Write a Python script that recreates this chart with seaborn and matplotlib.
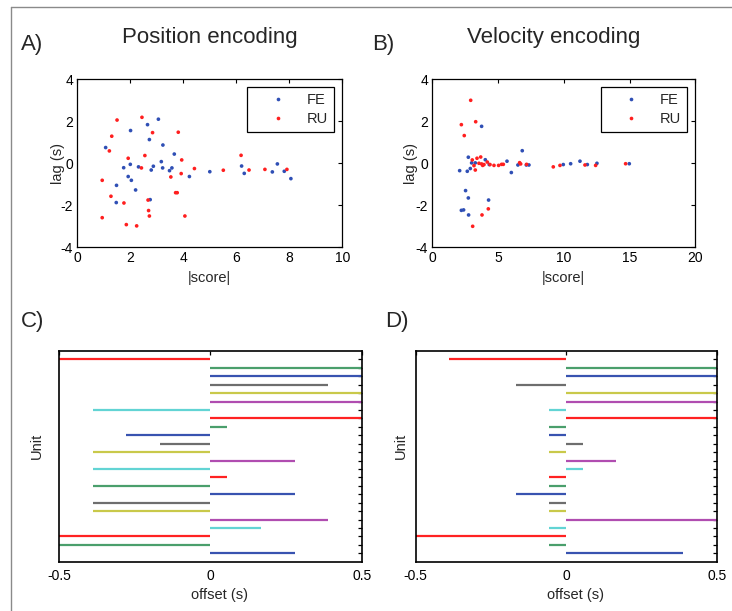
import numpy as np
import pandas as pd
import matplotlib
matplotlib.use("Agg")
import matplotlib.pyplot as plt
import seaborn as sns
from matplotlib.lines import Line2D

# ---------------- data ----------------
# Panel A: position encoding
pos_fe_score = [1.07, 2.01, 2.65, 3.06, 2.72, 3.23, 3.66, 3.17, 2.00, 1.75, 2.31, 2.87, 2.79, 3.22,
                3.48, 3.57, 1.92, 2.04, 1.48, 2.20, 2.75, 1.47, 4.23, 5.00, 6.20, 6.30, 7.36, 7.55,
                7.81, 8.06]
pos_fe_lag = [0.75, 1.56, 1.84, 2.10, 1.13, 0.87, 0.44, 0.08, -0.05, -0.21, -0.17, -0.14, -0.32, -0.22,
              -0.35, -0.22, -0.63, -0.81, -1.05, -1.27, -1.73, -1.87, -0.63, -0.40, -0.13, -0.48, -0.41,
              -0.03, -0.38, -0.73]
pos_ru_score = [1.50, 2.44, 1.30, 2.84, 3.81, 1.21, 1.92, 2.55, 3.94, 2.42, 3.53, 3.92, 4.42, 0.94,
                1.27, 1.76, 2.67, 3.71, 3.77, 2.69, 2.72, 0.94, 1.85, 2.24, 4.06, 5.51, 6.18, 6.48,
                7.08, 7.91]
pos_ru_lag = [2.06, 2.19, 1.29, 1.46, 1.48, 0.59, 0.24, 0.37, 0.16, -0.22, -0.65, -0.49, -0.25, -0.81,
              -1.57, -1.89, -1.75, -1.40, -1.40, -2.25, -2.51, -2.59, -2.92, -2.98, -2.51, -0.33, 0.38,
              -0.32, -0.29, -0.29]

# Panel B: velocity encoding
vel_fe_score = [2.08, 2.74, 2.66, 2.89, 2.99, 3.27, 2.53, 2.74, 2.21, 2.38, 2.76, 3.75, 4.03, 4.33,
                4.28, 5.68, 6.01, 6.51, 6.84, 7.15, 7.35, 9.96, 10.52, 11.23, 11.79, 12.52, 14.98]
vel_fe_lag = [-0.35, 0.29, -0.38, -0.25, 0.02, 0.02, -1.30, -1.65, -2.24, -2.22, -2.46, 1.76, 0.17,
              -0.06, -1.75, 0.10, -0.44, -0.08, 0.60, -0.08, -0.08, -0.06, -0.02, 0.10, -0.06, 0.00, -0.02]
vel_ru_score = [2.92, 2.21, 2.43, 3.30, 3.04, 3.17, 3.27, 3.40, 3.55, 3.68, 3.75, 3.83, 3.93, 4.18,
                4.39, 4.69, 5.04, 5.27, 5.40, 6.64, 6.72, 7.17, 3.78, 4.26, 3.07, 9.20, 9.71, 11.61,
                12.42, 14.70]
vel_ru_lag = [3.00, 1.84, 1.32, 1.98, 0.16, -0.11, -0.32, 0.24, 0.00, 0.30, -0.03, -0.10, -0.06, 0.06,
              -0.06, -0.10, -0.10, -0.05, -0.05, 0.03, -0.03, -0.05, -2.46, -2.17, -3.00, -0.17, -0.10,
              -0.08, -0.10, -0.02]

# Panels C / D: offsets per unit (units 1..24, top to bottom)
units = list(range(1, 25))
offset_pos = [-0.5, 0.5, 0.5, 0.389, 0.5, 0.5, -0.389, 0.5, 0.056, -0.278, -0.167, -0.389,
              0.278, -0.389, 0.056, -0.389, 0.278, -0.389, -0.389, 0.389, 0.167, -0.5, -0.5, 0.278]
offset_vel = [-0.389, 0.5, 0.5, -0.167, 0.5, 0.5, -0.056, 0.5, -0.056, -0.056, 0.056, -0.056,
              0.167, 0.056, -0.056, -0.056, -0.167, -0.056, -0.056, 0.5, -0.056, -0.5, -0.056, 0.389]
unit_colors = ["#ff2222", "#4a9f6c", "#3853b0", "#6e6e6e", "#c9c94a", "#b04db0", "#62d4d4"]

score_ticks_a = [0, 2, 4, 6, 8, 10]
score_ticks_b = [0, 5, 10, 15, 20]
lag_ticks = [-4, -2, 0, 2, 4]
offset_ticks = [-0.5, 0, 0.5]
offset_ticklabels = ["-0.5", "0", "0.5"]

# ---------------- style ----------------
sns.set_style("white")
plt.rcParams["font.family"] = ["Liberation Sans", "DejaVu Sans"]
plt.rcParams["axes.unicode_minus"] = False

W, H = 732, 611
fig = plt.figure(figsize=(W / 100, H / 100), dpi=100)


def ax_px(l, t, r, b):
    return fig.add_axes([l / W, 1 - b / H, (r - l) / W, (b - t) / H])


BLUE = "#2f4fb5"
RED = "#ff1f1f"


def scatter_panel(ax, fe_s, fe_l, ru_s, ru_l, xmax, xticks):
    df = pd.DataFrame({
        "score": list(fe_s) + list(ru_s),
        "lag": list(fe_l) + list(ru_l),
        "group": ["FE"] * len(fe_s) + ["RU"] * len(ru_s),
    })
    sns.scatterplot(data=df, x="score", y="lag", hue="group", hue_order=["FE", "RU"],
                    palette={"FE": BLUE, "RU": RED}, s=7, linewidth=0, ax=ax)
    ax.set_xlim(0, xmax)
    ax.set_ylim(-4, 4)
    ax.set_xticks(xticks)
    ax.set_yticks(lag_ticks)
    ax.tick_params(direction="in", length=3, width=0.8, top=True, right=True,
                   labelsize=10, pad=3, colors="black")
    for s in ax.spines.values():
        s.set_visible(True)
        s.set_color("black")
        s.set_linewidth(0.9)
    ax.set_xlabel("|score|", fontsize=10.5)
    ax.set_ylabel("lag (s)", fontsize=10.5)
    ax.xaxis.set_label_coords(0.5, -0.14)
    ax.yaxis.set_label_coords(-0.045, 0.5)
    handles, labels = ax.get_legend_handles_labels()
    leg = ax.legend(handles, labels, loc="upper right", bbox_to_anchor=(0.97, 0.955),
                    borderaxespad=0, fontsize=10.5, frameon=True, fancybox=False,
                    edgecolor="black", framealpha=1, handlelength=3.3, handletextpad=0.3,
                    borderpad=0.45, labelspacing=0.3, markerscale=1.0)
    leg.get_frame().set_linewidth(0.9)


axA = ax_px(77.3, 79.3, 342.3, 247.3)
scatter_panel(axA, pos_fe_score, pos_fe_lag, pos_ru_score, pos_ru_lag, 10, score_ticks_a)

axB = ax_px(432.3, 79.3, 695.3, 247.3)
scatter_panel(axB, vel_fe_score, vel_fe_lag, vel_ru_score, vel_ru_lag, 20, score_ticks_b)
axB.yaxis.set_label_coords(-0.055, 0.5)


def offset_panel(ax, offsets):
    cols = [unit_colors[i % len(unit_colors)] for i in range(len(units))]
    xmin = [min(0, v) for v in offsets]
    xmax = [max(0, v) for v in offsets]
    ax.hlines(units, xmin, xmax, colors=cols, linewidth=1.6)
    ax.set_xlim(-0.5, 0.5)
    ax.set_ylim(25, 0)
    ax.set_xticks(offset_ticks)
    ax.set_xticklabels(offset_ticklabels)
    ax.set_yticks(units)
    ax.set_yticklabels([])
    ax.tick_params(direction="in", length=3, width=0.9, top=True, right=True,
                   labelsize=10, pad=5, colors="black")
    for s in ax.spines.values():
        s.set_visible(True)
        s.set_color("black")
        s.set_linewidth(1.2)
    ax.set_xlabel("offset (s)", fontsize=10.5)
    ax.set_ylabel("Unit", fontsize=10.5)
    ax.xaxis.set_label_coords(0.53, -0.125)


axC = ax_px(59, 351, 361.7, 561.7)
offset_panel(axC, offset_pos)
axC.yaxis.set_label_coords(-0.049, 0.55)

axD = ax_px(415.7, 351, 716.7, 561.7)
offset_panel(axD, offset_vel)
axD.yaxis.set_label_coords(-0.027, 0.55)

# panel letters and titles
def ftext(x, y, s, **kw):
    fig.text(x / W, 1 - y / H, s, va="baseline", **kw)

ftext(20.7, 50, "A)", fontsize=16, ha="left")
ftext(209.7, 43.5, "Position encoding", fontsize=16, ha="center")
ftext(372, 50, "B)", fontsize=16, ha="left")
ftext(554, 43.5, "Velocity encoding", fontsize=16, ha="center")
ftext(20.7, 327, "C)", fontsize=16, ha="left")
ftext(385, 327, "D)", fontsize=16, ha="left")

# partial frame lines
fig.add_artist(Line2D([10.5 / W, 10.5 / W], [0, 1 - 6.8 / H], transform=fig.transFigure,
                      color="#8a8a8a", linewidth=1.0))
fig.add_artist(Line2D([10.5 / W, 1], [1 - 6.8 / H, 1 - 6.8 / H], transform=fig.transFigure,
                      color="#8a8a8a", linewidth=1.0))

fig.savefig("out.png", dpi=100)
